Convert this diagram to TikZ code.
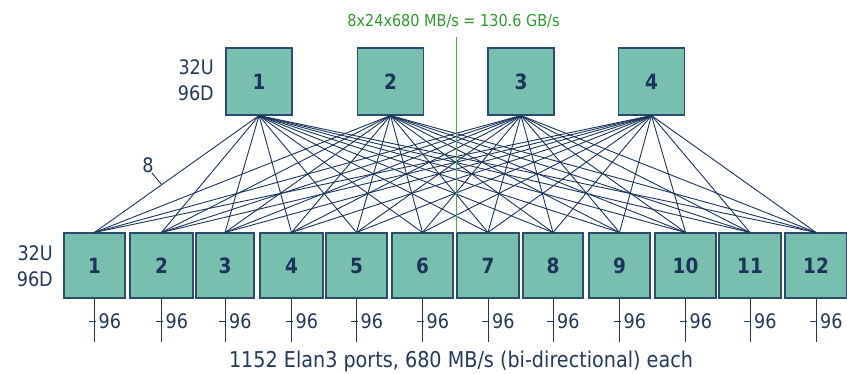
\documentclass[tikz,border=0pt]{standalone}
\usepackage{fontspec}
\setmainfont{DejaVu Sans}[FakeStretch=0.88]
\definecolor{boxfill}{HTML}{79BFB0}
\definecolor{boxline}{HTML}{2B4C6F}
\definecolor{linkcol}{HTML}{1B355A}
\definecolor{txtcol}{HTML}{24395A}
\definecolor{bwgreen}{HTML}{2E9A2E}
\tikzset{
  switchbox/.style={draw=boxline, fill=boxfill, line width=1.1pt, inner sep=0pt,
    text=linkcol, font=\fontsize{21}{21}\selectfont\bfseries},
  link/.style={draw=linkcol, line width=0.9pt},
  lbl/.style={text=txtcol, inner sep=0pt, font=\fontsize{20}{26}\selectfont}
}
\begin{document}
\begin{tikzpicture}[x=1pt, y=-1pt]
  \useasboundingbox (0,0) rectangle (847,373);
  % top level switches
  \foreach \i/\x in {1/259, 2/390.5, 3/521, 4/651.5}
    \node[switchbox, minimum width=66pt, minimum height=67pt] (t\i) at (\x,81.5) {\i};
  % bottom level switches
  \foreach \i/\x/\w in {1/94.5/61, 2/161.5/63, 3/225/58, 4/291.5/63, 5/356.5/61,
      6/422.5/61, 7/488/62, 8/553/60, 9/619.5/61, 10/685.5/61, 11/750/62, 12/816/62}
    \node[switchbox, minimum width=\w pt, minimum height=65pt] (b\i) at (\x,265.5) {\i};
  % every top switch to every bottom switch
  \foreach \t in {1,...,4}
    \foreach \b in {1,...,12}
      \draw[link] (t\t.south) -- (b\b.north);
  % node ports
  \foreach \i in {1,...,12} {
    \coordinate (p\i) at ([yshift=-43pt]b\i.south);
    \coordinate (k\i) at ([yshift=-23pt]b\i.south);
    \draw[link] (b\i.south) -- (p\i);
    \draw[link] ([xshift=-6pt]k\i) -- ([xshift=1pt]k\i);
    \node[lbl, anchor=west] (n\i) at ([xshift=4pt]k\i) {96};
  }
  % bisection
  \node[text=bwgreen, inner sep=0pt, font=\fontsize{16.4}{16}\selectfont] (bw) at (453.5,21) {8x24x680 MB/s = 130.6 GB/s};
  \coordinate (gtop) at (456,37);
  \coordinate (gbot) at (456,233);
  \draw[draw=bwgreen!85, line width=0.9pt] (gtop) -- (gbot);
  % labels
  \node[lbl, align=right, anchor=east] (ltop) at (214,80) {32U\\96D};
  \node[lbl, align=right, anchor=east] (lbot) at (53,266) {32U\\96D};
  \node[lbl] (eight) at (148,165) {8};
  \coordinate (lead) at (162,185);
  \draw[link] (152,173) -- (lead);
  \node[lbl, font=\fontsize{21.8}{22}\selectfont] (cap) at (461,361) {1152 Elan3 ports, 680 MB/s (bi-directional) each};
\end{tikzpicture}
\end{document}
